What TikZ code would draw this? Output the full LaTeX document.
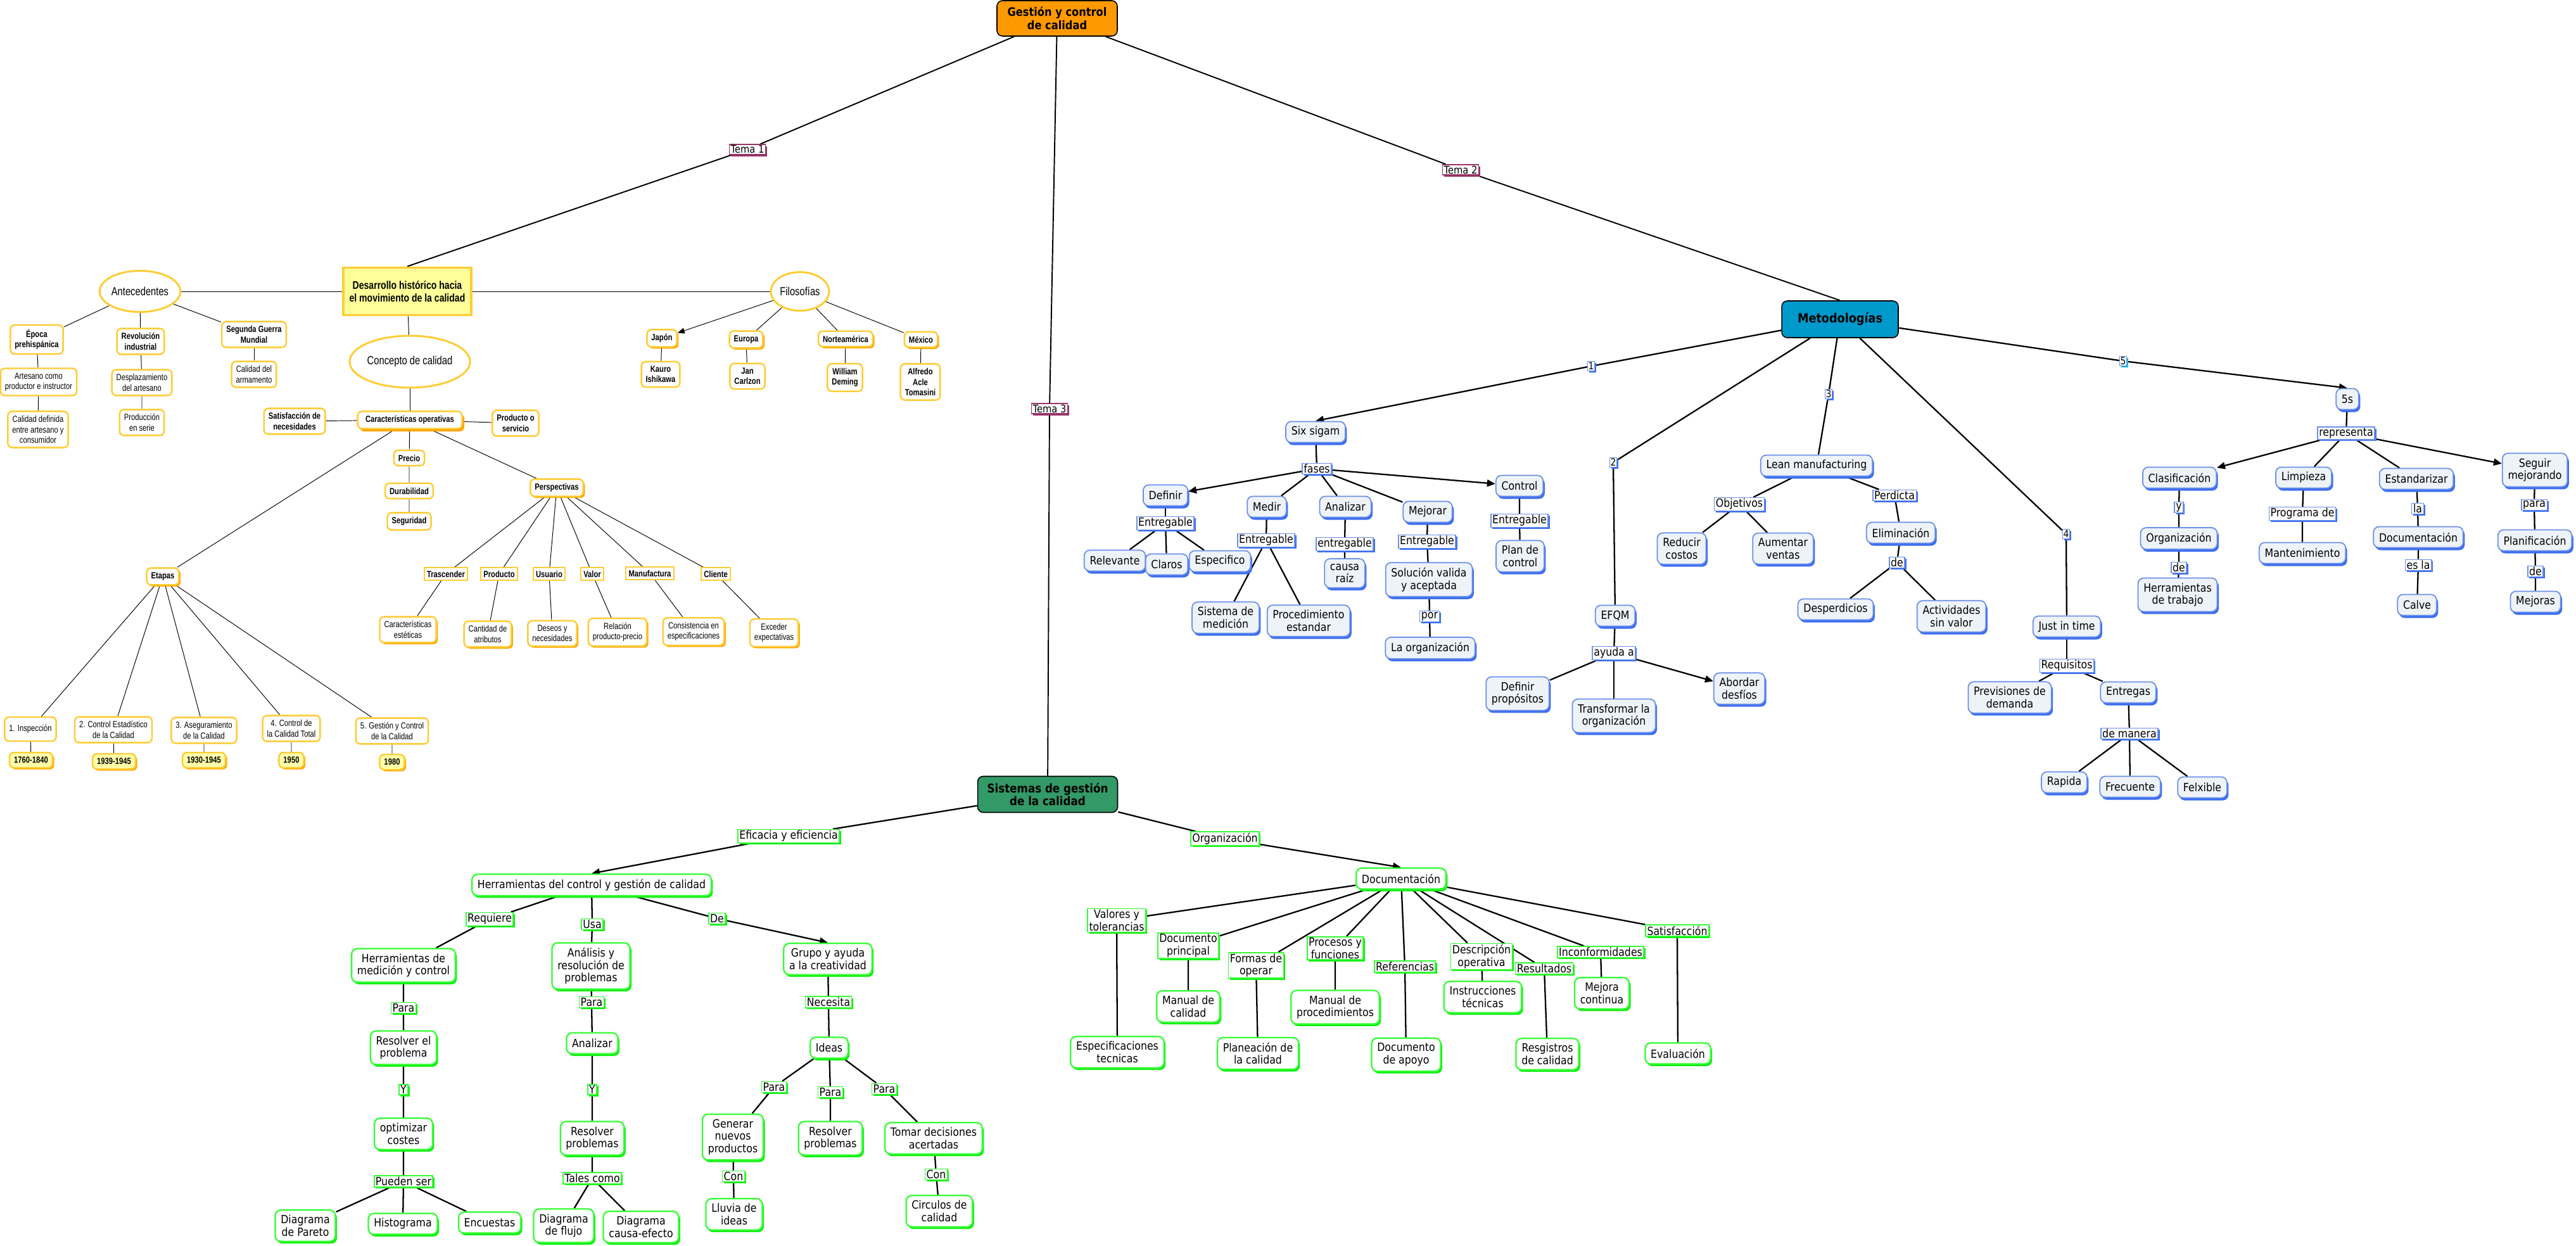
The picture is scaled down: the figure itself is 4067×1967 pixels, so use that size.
\documentclass[tikz,border=0pt]{standalone}
\usepackage{fontspec}
\setmainfont[FakeStretch=0.88]{DejaVu Sans}
\newfontfamily\narrowsans[FakeStretch=0.8]{Liberation Sans}
\usetikzlibrary{arrows.meta,shapes.geometric,shadows}

\definecolor{ygold}{HTML}{FFCC33}
\definecolor{yorange}{HTML}{FFA500}
\definecolor{ylight}{HTML}{FFFFAA}
\definecolor{ypale}{HTML}{FFFF99}
\definecolor{rootorange}{HTML}{FF9900}
\definecolor{metblue}{HTML}{0099CC}
\definecolor{sisgreen}{HTML}{339966}
\definecolor{bblue}{HTML}{6B8FE8}
\definecolor{bshadow}{HTML}{3D6EF0}
\definecolor{bfill}{HTML}{EEF3F8}
\definecolor{ggreen}{HTML}{33FF33}
\definecolor{gshadow}{HTML}{11EE11}
\definecolor{tpurple}{HTML}{993366}
\definecolor{ncyan}{HTML}{11BBEE}

\newcommand\ftmain{\fontsize{10.2}{11.2}\selectfont}
\newcommand\ftysm{\narrowsans\fontsize{8}{9.3}\selectfont}
\newcommand\ftysmb{\narrowsans\bfseries\fontsize{8}{9.3}\selectfont}
\newcommand\ftybig{\narrowsans\fontsize{10.5}{12}\selectfont}
\newcommand\ftdes{\narrowsans\bfseries\fontsize{10}{11.7}\selectfont}
\newcommand\fttop{\bfseries\fontsize{10.5}{12.1}\selectfont}
\newcommand\ftmet{\bfseries\fontsize{11.4}{13}\selectfont}
\newcommand\ftsis{\bfseries\fontsize{10.8}{11.7}\selectfont}
\newcommand\fttema{\fontsize{9.5}{11}\selectfont}
\newcommand\ftnum{\fontsize{9}{10}\selectfont}

\pgfdeclarelayer{background}
\pgfsetlayers{background,main}

\begin{document}
\begin{tikzpicture}[x=0.02cm, y=-0.02cm,
  yconc/.style={draw=ygold, line width=1.4pt, fill=white, rounded corners=4pt, align=center, font=\ftysm, inner xsep=4pt, inner ysep=4pt},
  yconcb/.style={yconc, font=\ftysmb},
  yshad/.style={drop shadow={shadow xshift=1.5pt, shadow yshift=-1.5pt, fill=yorange, opacity=1}},
  yyear/.style={yconcb, fill=ylight, yshad},
  ylink/.style={draw=ygold, line width=1.1pt, fill=white, font=\ftysmb, inner xsep=2.5pt, inner ysep=2.5pt},
  yell/.style={ellipse, draw=ygold, line width=1.7pt, fill=white, inner sep=0pt, font=\ftybig},
  topbox/.style={draw=black, line width=0.9pt, rounded corners=5pt, align=center},
  conc/.style={rounded corners=5pt, align=center, font=\ftmain, inner xsep=5pt, inner ysep=4.5pt, minimum height=0.66cm},
  bconc/.style={conc, draw=bblue, line width=1pt, fill=bfill, drop shadow={shadow xshift=0.05cm, shadow yshift=-0.08cm, fill=bshadow, opacity=1}},
  gconc/.style={conc, draw=ggreen, line width=1.3pt, fill=white, drop shadow={shadow xshift=0.05cm, shadow yshift=-0.07cm, fill=gshadow, opacity=1}},
  lab/.style={align=center, font=\ftmain, fill=white, inner xsep=1.3pt, inner ysep=1pt},
  blab/.style={lab, draw=bblue, line width=0.8pt, drop shadow={shadow xshift=0.05cm, shadow yshift=-0.05cm, fill=bshadow, opacity=1}},
  glab/.style={lab, draw=ggreen, line width=1pt, drop shadow={shadow xshift=0.05cm, shadow yshift=-0.05cm, fill=gshadow, opacity=1}},
  tlab/.style={lab, font=\fttema, draw=tpurple, line width=0.8pt, drop shadow={shadow xshift=0.05cm, shadow yshift=-0.06cm, fill=tpurple, opacity=1}},
  nlab/.style={lab, font=\ftnum, inner sep=0.8pt, draw=bblue, line width=0.5pt, drop shadow={shadow xshift=0.05cm, shadow yshift=-0.05cm, fill=bshadow, opacity=1}},
  nlabc/.style={lab, font=\ftnum, inner sep=0.8pt, draw=bblue, line width=0.5pt, drop shadow={shadow xshift=0.05cm, shadow yshift=-0.05cm, fill=ncyan, opacity=1}},
  yline/.style={draw=black, line width=0.55pt},
  yarr/.style={yline, -{Triangle[length=0.22cm, width=0.18cm]}},
  rline/.style={draw=black, line width=1.1pt},
  conn/.style={draw=black, line width=1.3pt},
  connarr/.style={conn, -{Triangle[length=0.26cm, width=0.22cm]}}
]
\begin{pgfonlayer}{background}
\fill[white] (0,0) rectangle (4067,1967);
\end{pgfonlayer}
\useasboundingbox (0,0) rectangle (4067,1967);

% main topics
\node[topbox, fill=rootorange, font=\fttop, minimum width=3.8cm, minimum height=1.12cm] (root) at (1669,29) {Gestión y control\\de calidad};
\node[topbox, fill=metblue, font=\ftmet, minimum width=3.68cm, minimum height=1.16cm] (metod) at (2905,504) {Metodologías};
\node[topbox, fill=sisgreen, font=\ftsis, minimum width=4.42cm, minimum height=1.14cm] (sistemas) at (1654,1254) {Sistemas de gestión\\de la calidad};
\node[draw=ygold, line width=2.2pt, fill=ypale, align=center, font=\ftdes, minimum width=4.04cm, minimum height=1.5cm] (desarr) at (643,460) {Desarrollo histórico hacia\\el movimiento de la calidad};
\node[tlab] (tema1) at (1180,236) {Tema 1};
\node[tlab] (tema2) at (2306,268) {Tema 2};
\node[tlab] (tema3) at (1657,645) {Tema 3};

% tema 1
\node[yell, minimum width=2.3cm, minimum height=1.3cm] (antec) at (221,460) {Antecedentes};
\node[yell, minimum width=1.84cm, minimum height=1.22cm] (filos) at (1263,460) {Filosofías};
\node[yell, minimum width=3.28cm, minimum height=1.64cm] (concepto) at (647,571) {Concepto de calidad};
\node[yconcb] (epoca) at (58,536) {Época\\prehispánica};
\node[yconcb] (revol) at (222,539) {Revolución\\industrial};
\node[yconcb] (segunda) at (401,528) {Segunda Guerra\\Mundial};
\node[yconc] (artesano) at (61,603) {Artesano como\\productor e instructor};
\node[yconc] (desplaz) at (224,604) {Desplazamiento\\del artesano};
\node[yconc] (armamento) at (401,591) {Calidad del\\armamento};
\node[yconc] (caldef) at (60,678) {Calidad definida\\entre artesano y\\consumidor};
\node[yconc] (produccion) at (224,667) {Producción\\en serie};
\node[yconcb] (satisf) at (465,665) {Satisfacción de\\necesidades};
\node[yconcb, minimum width=3.3cm, drop shadow={shadow xshift=2pt, shadow yshift=-2.5pt, fill=yorange, opacity=1}] (caract) at (647,663) {Características operativas};
\node[yconcb] (prodserv) at (814,668) {Producto o\\servicio};
\node[yconcb] (precio) at (646,723) {Precio};
\node[yconcb] (durab) at (646,775) {Durabilidad};
\node[yconcb] (segur) at (646,823) {Seguridad};
\node[yconcb, yshad] (etapas) at (257,910) {Etapas};
\node[yconcb, yshad] (persp) at (879,770) {Perspectivas};
\node[ylink] (trasc) at (704,906) {Trascender};
\node[ylink] (producto) at (788,906) {Producto};
\node[ylink] (usuario) at (867,906) {Usuario};
\node[ylink] (valor) at (935,906) {Valor};
\node[ylink] (manuf) at (1026,905) {Manufactura};
\node[ylink] (cliente) at (1130,906) {Cliente};
\node[yconc, yshad] (estet) at (644,994) {Características\\estéticas};
\node[yconc, yshad] (cantidad) at (770,1001) {Cantidad de\\atributos};
\node[yconc, yshad] (deseos) at (872,1000) {Deseos y\\necesidades};
\node[yconc, yshad] (relacion) at (975,998) {Relación\\producto-precio};
\node[yconc, yshad] (consist) at (1095,997) {Consistencia en\\especificaciones};
\node[yconc, yshad] (exceder) at (1222,999) {Exceder\\expectativas};
\node[yconc, minimum height=0.76cm] (et1) at (48,1151) {1. Inspección};
\node[yconc] (et2) at (179,1152) {2. Control Estadístico\\de la Calidad};
\node[yconc] (et3) at (322,1153) {3. Aseguramiento\\de la Calidad};
\node[yconc] (et4) at (460,1150) {4. Control de\\la Calidad Total};
\node[yconc] (et5) at (619,1154) {5. Gestión y Control\\de la Calidad};
\node[yyear] (yr1) at (49,1200) {1760-1840};
\node[yyear] (yr2) at (180,1202) {1939-1945};
\node[yyear] (yr3) at (322,1200) {1930-1945};
\node[yyear] (yr4) at (460,1200) {1950};
\node[yyear] (yr5) at (619,1203) {1980};
\node[yconcb, yshad] (japon) at (1045,534) {Japón};
\node[yconcb, yshad] (europa) at (1178,536) {Europa};
\node[yconcb, yshad] (norte) at (1335,535) {Norteamérica};
\node[yconcb, yshad] (mexico) at (1454,536) {México};
\node[yconcb] (kauro) at (1043,591) {Kauro\\Ishikawa};
\node[yconcb] (jan) at (1180,594) {Jan\\Carlzon};
\node[yconcb] (william) at (1334,596) {William\\Deming};
\node[yconcb] (alfredo) at (1453,603) {Alfredo\\Acle\\Tomasini};

% tema 2
\node[nlab] (n1) at (2512,578) {1};
\node[nlab] (n2) at (2547,730) {2};
\node[nlab] (n3) at (2887,622) {3};
\node[nlab] (n4) at (3262,843) {4};
\node[nlabc] (n5) at (3352,570) {5};
\node[bconc] (six) at (2077,682) {Six sigam};
\node[blab] (fases) at (2079,740) {fases};
\node[bconc] (definir) at (1840,782) {Definir};
\node[bconc] (medir) at (2000,800) {Medir};
\node[bconc] (analizar) at (2124,800) {Analizar};
\node[bconc] (mejorar) at (2254,808) {Mejorar};
\node[bconc] (control) at (2399,767) {Control};
\node[blab] (entdef) at (1840,826) {Entregable};
\node[bconc] (relev) at (1760,885) {Relevante};
\node[bconc] (claros) at (1842,891) {Claros};
\node[bconc] (espec) at (1926,886) {Especifico};
\node[blab] (entmed) at (1999,853) {Entregable};
\node[bconc] (sistmed) at (1935,975) {Sistema de\\medición};
\node[bconc] (proced) at (2066,980) {Procedimiento\\estandar};
\node[blab] (entana) at (2123,859) {entregable};
\node[bconc] (causa) at (2123,905) {causa\\raíz};
\node[blab] (entmej) at (2253,855) {Entregable};
\node[bconc] (solucion) at (2256,915) {Solución valida\\y aceptada};
\node[blab] (por) at (2257,973) {por};
\node[bconc] (laorg) at (2258,1023) {La organización};
\node[blab] (entcon) at (2399,822) {Entregable};
\node[bconc] (plan) at (2400,878) {Plan de\\control};
\node[bconc] (efqm) at (2550,972) {EFQM};
\node[blab] (ayuda) at (2548,1031) {ayuda a};
\node[bconc] (defprop) at (2396,1095) {Definir\\propósitos};
\node[bconc] (transf) at (2548,1130) {Transformar la\\organización};
\node[bconc] (abordar) at (2746,1087) {Abordar\\desfíos};
\node[bconc] (lean) at (2868,735) {Lean manufacturing};
\node[blab] (objet) at (2746,796) {Objetivos};
\node[blab] (perdicta) at (2991,782) {Perdicta};
\node[bconc] (reducir) at (2655,866) {Reducir\\costos};
\node[bconc] (aumentar) at (2815,866) {Aumentar\\ventas};
\node[bconc] (elimin) at (3001,841) {Eliminación};
\node[blab] (delean) at (2995,888) {de};
\node[bconc] (desperd) at (2898,962) {Desperdicios};
\node[bconc] (activ) at (3081,973) {Actividades\\sin valor};
\node[bconc] (jit) at (3263,989) {Just in time};
\node[blab] (requis) at (3263,1051) {Requisitos};
\node[bconc] (previs) at (3173,1101) {Previsiones de\\demanda};
\node[bconc] (entregas) at (3360,1093) {Entregas};
\node[blab] (demanera) at (3362,1158) {de manera};
\node[bconc] (rapida) at (3259,1235) {Rapida};
\node[bconc] (frec) at (3363,1242) {Frecuente};
\node[bconc] (felx) at (3477,1243) {Felxible};
\node[bconc] (cinco) at (3706,630) {5s};
\node[blab] (repres) at (3704,684) {representa};
\node[bconc] (clasif) at (3441,754) {Clasificación};
\node[bconc] (limpieza) at (3637,754) {Limpieza};
\node[bconc] (estand) at (3815,756) {Estandarizar};
\node[bconc] (seguir) at (4002,742) {Seguir\\mejorando};
\node[blab] (yclas) at (3440,801) {y};
\node[bconc] (organiz) at (3440,850) {Organización};
\node[blab] (declas) at (3440,896) {de};
\node[bconc] (herrtrab) at (3438,939) {Herramientas\\de trabajo};
\node[blab] (progde) at (3635,811) {Programa de};
\node[bconc] (mant) at (3635,873) {Mantenimiento};
\node[blab] (laest) at (3817,803) {la};
\node[bconc] (docest) at (3818,848) {Documentación};
\node[blab] (esla) at (3818,892) {es la};
\node[bconc] (calve) at (3816,955) {Calve};
\node[blab] (para5) at (4001,797) {para};
\node[bconc] (planif) at (4002,853) {Planificación};
\node[blab] (deplan) at (4003,902) {de};
\node[bconc] (mejoras) at (4003,950) {Mejoras};

% tema 3
\node[glab] (eficacia) at (1245,1320) {Eficacia y eficiencia};
\node[gconc] (herrctrl) at (934,1397) {Herramientas del control y gestión de calidad};
\node[glab] (requiere) at (773,1451) {Requiere};
\node[glab] (usa) at (935,1459) {Usa};
\node[glab] (de) at (1132,1450) {De};
\node[gconc] (herrmed) at (637,1524) {Herramientas de\\medición y control};
\node[gconc] (analisis) at (933,1525) {Análisis y\\resolución de\\problemas};
\node[gconc] (grupo) at (1307,1514) {Grupo y ayuda\\a la creatividad};
\node[glab] (para1) at (637,1591) {Para};
\node[glab] (para2) at (934,1582) {Para};
\node[glab] (necesita) at (1308,1582) {Necesita};
\node[gconc] (resolver) at (637,1654) {Resolver el\\problema};
\node[gconc] (analizarg) at (935,1647) {Analizar};
\node[gconc] (ideas) at (1309,1654) {Ideas};
\node[glab] (y1) at (637,1720) {Y};
\node[glab] (y2) at (935,1720) {Y};
\node[glab] (paraa) at (1222,1716) {Para};
\node[glab] (parab) at (1311,1724) {Para};
\node[glab] (parac) at (1396,1719) {Para};
\node[gconc] (optim) at (637,1790) {optimizar\\costes};
\node[gconc] (resprob1) at (935,1797) {Resolver\\problemas};
\node[gconc] (generar) at (1157,1795) {Generar\\nuevos\\productos};
\node[gconc] (resprob2) at (1311,1797) {Resolver\\problemas};
\node[gconc] (tomar) at (1474,1797) {Tomar decisiones\\acertadas};
\node[glab] (pueden) at (637,1865) {Pueden ser};
\node[glab] (tales) at (935,1860) {Tales como};
\node[glab] (con1) at (1158,1857) {Con};
\node[glab] (con2) at (1478,1854) {Con};
\node[gconc] (pareto) at (482,1935) {Diagrama\\de Pareto};
\node[gconc] (histo) at (636,1932) {Histograma};
\node[gconc] (encuestas) at (773,1930) {Encuestas};
\node[gconc] (flujo) at (890,1935) {Diagrama\\de flujo};
\node[gconc] (causaef) at (1012,1937) {Diagrama\\causa-efecto};
\node[gconc] (lluvia) at (1159,1917) {Lluvia de\\ideas};
\node[gconc] (circulos) at (1483,1912) {Circulos de\\calidad};
\node[glab] (organizl) at (1934,1324) {Organización};
\node[gconc] (docum) at (2212,1387) {Documentación};
\node[glab] (valores) at (1763,1453) {Valores y\\tolerancias};
\node[glab] (docprin) at (1876,1493) {Documento\\principal};
\node[glab] (formas) at (1983,1524) {Formas de\\operar};
\node[glab] (procesos) at (2108,1497) {Procesos y\\funciones};
\node[glab] (refer) at (2218,1526) {Referencias};
\node[glab] (descrip) at (2339,1510) {Descripción\\operativa};
\node[glab] (result) at (2438,1529) {Resultados};
\node[glab] (inconf) at (2527,1503) {Inconformidades};
\node[glab] (satisfg) at (2648,1469) {Satisfacción};
\node[gconc] (manualcal) at (1876,1589) {Manual de\\calidad};
\node[gconc] (manualproc) at (2108,1590) {Manual de\\procedimientos};
\node[gconc] (instruc) at (2341,1574) {Instrucciones\\técnicas};
\node[gconc] (mejcont) at (2529,1568) {Mejora\\continua};
\node[gconc] (especif) at (1764,1661) {Especificaciones\\tecnicas};
\node[gconc] (planea) at (1986,1663) {Planeación de\\la calidad};
\node[gconc] (docapoyo) at (2220,1665) {Documento\\de apoyo};
\node[gconc] (registros) at (2443,1664) {Resgistros\\de calidad};
\node[gconc] (evalua) at (2649,1663) {Evaluación};

\begin{pgfonlayer}{background}
% root branches
\draw[rline] (root) -- (tema1) -- (desarr.north);
\draw[rline] (root) -- (tema2) -- (metod.north);
\draw[rline] (root) -- (tema3) -- (sistemas);

% historical development
\draw[yline] (desarr) -- (antec);
\draw[yline] (desarr) -- (filos);
\draw[yline] (desarr) -- (concepto);
\foreach \c in {epoca,revol,segunda} \draw[yline] (antec) -- (\c);
\draw[yline] (epoca) -- (artesano) -- (caldef);
\draw[yline] (revol) -- (desplaz) -- (produccion);
\draw[yline] (segunda) -- (armamento);
\draw[yline] (concepto) -- (caract);
\foreach \c in {satisf,prodserv,etapas,persp} \draw[yline] (caract) -- (\c);
\draw[yline] (caract) -- (precio) -- (durab) -- (segur);
\foreach \e in {1,...,5} \draw[yline] (etapas) -- (et\e) -- (yr\e);
\foreach \p/\q in {trasc/estet, producto/cantidad, usuario/deseos, valor/relacion, manuf/consist, cliente/exceder}
  \draw[yline] (persp) -- (\p) -- (\q);
\draw[yarr] (filos) -- (japon);
\foreach \c in {europa,norte,mexico} \draw[yline] (filos) -- (\c);
\foreach \p/\q in {japon/kauro, europa/jan, norte/william, mexico/alfredo} \draw[yline] (\p) -- (\q);

% methodologies
\draw[connarr] (metod) -- (n1) -- (six.north);
\draw[conn] (metod) -- (n2) -- (efqm);
\draw[conn] (metod) -- (n3) -- (lean);
\draw[conn] (metod) -- (n4) -- (jit);
\draw[connarr] (metod) -- (n5) -- (cinco.north);
\draw[conn] (six) -- (fases);
\draw[connarr] (fases) -- (definir);
\foreach \c in {medir,analizar,mejorar} \draw[conn] (fases) -- (\c);
\draw[connarr] (fases) -- (control);
\draw[conn] (definir) -- (entdef);
\foreach \c in {relev,claros,espec} \draw[conn] (entdef) -- (\c);
\draw[conn] (medir) -- (entmed);
\foreach \c in {sistmed,proced} \draw[conn] (entmed) -- (\c);
\draw[conn] (analizar) -- (entana) -- (causa);
\draw[conn] (mejorar) -- (entmej) -- (solucion) -- (por) -- (laorg);
\draw[conn] (control) -- (entcon) -- (plan);
\draw[conn] (efqm) -- (ayuda);
\foreach \c in {defprop,transf} \draw[conn] (ayuda) -- (\c);
\draw[connarr] (ayuda) -- (abordar);
\draw[conn] (lean) -- (objet);
\foreach \c in {reducir,aumentar} \draw[conn] (objet) -- (\c);
\draw[conn] (lean) -- (perdicta) -- (elimin) -- (delean);
\foreach \c in {desperd,activ} \draw[conn] (delean) -- (\c);
\draw[conn] (jit) -- (requis);
\foreach \c in {previs,entregas} \draw[conn] (requis) -- (\c);
\draw[conn] (entregas) -- (demanera);
\foreach \c in {rapida,frec,felx} \draw[conn] (demanera) -- (\c);
\draw[conn] (cinco) -- (repres);
\draw[connarr] (repres) -- (clasif);
\foreach \c in {limpieza,estand} \draw[conn] (repres) -- (\c);
\draw[connarr] (repres) -- (seguir);
\draw[conn] (clasif) -- (yclas) -- (organiz) -- (declas) -- (herrtrab);
\draw[conn] (limpieza) -- (progde) -- (mant);
\draw[conn] (estand) -- (laest) -- (docest) -- (esla) -- (calve);
\draw[conn] (seguir) -- (para5) -- (planif) -- (deplan) -- (mejoras);

% quality systems
\draw[conn] (sistemas) -- (eficacia);
\draw[connarr] (eficacia) -- (herrctrl.north);
\draw[conn] (sistemas) -- (organizl);
\draw[connarr] (organizl) -- (docum.north);
\draw[conn] (herrctrl) -- (requiere) -- (herrmed) -- (para1) -- (resolver) -- (y1) -- (optim) -- (pueden);
\foreach \c in {pareto,histo,encuestas} \draw[conn] (pueden) -- (\c);
\draw[conn] (herrctrl) -- (usa) -- (analisis) -- (para2) -- (analizarg) -- (y2) -- (resprob1) -- (tales);
\foreach \c in {flujo,causaef} \draw[conn] (tales) -- (\c);
\draw[conn] (herrctrl) -- (de);
\draw[connarr] (de) -- (grupo.north);
\draw[conn] (grupo) -- (necesita) -- (ideas);
\draw[conn] (ideas) -- (paraa) -- (generar) -- (con1) -- (lluvia);
\draw[conn] (ideas) -- (parab) -- (resprob2);
\draw[conn] (ideas) -- (parac) -- (tomar) -- (con2) -- (circulos);
\foreach \l/\c in {valores/especif, docprin/manualcal, formas/planea, procesos/manualproc, refer/docapoyo, descrip/instruc, result/registros, inconf/mejcont, satisfg/evalua}
  \draw[conn] (docum) -- (\l) -- (\c);
\end{pgfonlayer}
\end{tikzpicture}
\end{document}
